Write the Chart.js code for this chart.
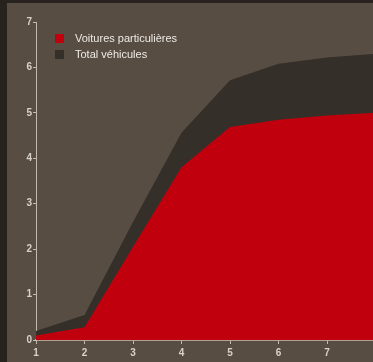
<!DOCTYPE html>
<html>
<head>
<meta charset="utf-8">
<script src="https://cdn.jsdelivr.net/npm/chart.js@4.4.1/dist/chart.umd.min.js"></script>
<style>
    html, body { margin: 0; padding: 0; width: 373px; height: 362px; overflow: hidden; background: #28221e; }
    #panel { position: absolute; left: 7px; top: 3px; width: 380px; height: 359px; background: #574d43; }
    #chart-wrap { position: absolute; left: 0; top: 0; width: 380px; height: 359px; }
    #legend { position: absolute; left: 48px; top: 27px; font: 11px "Liberation Sans", Arial, sans-serif; color: #eeeae6; }
    .legend-row { display: flex; align-items: center; height: 16px; }
    .legend-box { width: 9px; height: 9px; margin-right: 11px; }
</style>
</head>
<body>
<div id="panel">
    <div id="chart-wrap"><canvas id="transportChart" width="380" height="359"></canvas></div>
    <div id="legend"></div>
</div>
<script>
const labels = ['1', '2', '3', '4', '5', '6', '7', '8'];
const voitures = [0.1, 0.28, 2.05, 3.8, 4.69, 4.85, 4.94, 5.0];
const totalVehicules = [0.2, 0.55, 2.6, 4.56, 5.72, 6.08, 6.22, 6.3];
const yTicks = [0, 1, 2, 3, 4, 5, 6, 7];

const seriesNames = ['Voitures particulières', 'Total véhicules'];
const seriesColors = ['#c1000e', '#352f29'];

const axisColor = '#c2b9b0';
const tickFont = { family: '"Liberation Sans", Arial, sans-serif', size: 10, weight: 'bold' };

// legend sits inside the plot, top-left
const legend = document.getElementById('legend');
seriesNames.forEach((name, i) => {
    const row = document.createElement('div');
    row.className = 'legend-row';
    row.innerHTML = `<span class="legend-box" style="background:${seriesColors[i]}"></span><span>${name}</span>`;
    legend.appendChild(row);
});

new Chart(document.getElementById('transportChart').getContext('2d'), {
    type: 'line',
    data: {
        labels: labels,
        datasets: [
            {
                label: seriesNames[0],
                data: voitures,
                backgroundColor: seriesColors[0],
                borderWidth: 0,
                pointRadius: 0,
                fill: 'origin',
                tension: 0
            },
            {
                label: seriesNames[1],
                data: totalVehicules,
                backgroundColor: seriesColors[1],
                borderWidth: 0,
                pointRadius: 0,
                fill: 'origin',
                tension: 0
            }
        ]
    },
    options: {
        responsive: false,
        animation: false,
        layout: { padding: { top: 19, right: 11.5, left: 0, bottom: 0 } },
        plugins: {
            legend: { display: false },
            tooltip: { enabled: false }
        },
        scales: {
            x: {
                offset: false,
                z: 1,
                border: { color: 'rgba(240, 215, 210, 0.6)', width: 2 },
                grid: { drawOnChartArea: false, color: axisColor, tickLength: 4, lineWidth: 1 },
                ticks: { color: '#d9d2cb', font: tickFont, padding: 3, maxRotation: 0 },
                afterFit: (scale) => { scale.height = 22; }
            },
            y: {
                min: 0,
                max: 7,
                border: { color: axisColor, width: 1 },
                grid: { drawOnChartArea: false, color: axisColor, tickLength: 3 },
                afterBuildTicks: (scale) => { scale.ticks = yTicks.map(v => ({ value: v })); },
                ticks: { color: '#d9d2cb', font: tickFont, padding: 1 },
                afterFit: (scale) => { scale.width = 29; }
            }
        }
    }
});
</script>
</body>
</html>
